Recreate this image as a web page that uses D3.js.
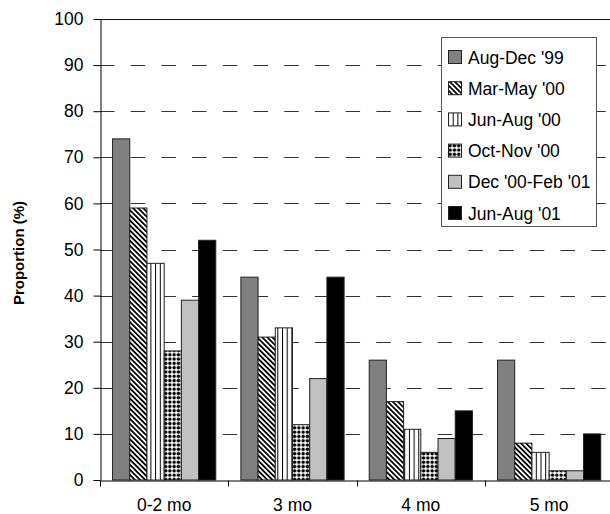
<!DOCTYPE html>
<html>
<head>
<meta charset="utf-8">
<script src="https://cdn.jsdelivr.net/npm/d3@7"></script>
<style>
  html, body { margin: 0; padding: 0; background: #fff; }
  svg { display: block; }
  text { font-family: "Liberation Sans", Arial, sans-serif; fill: #000; }
</style>
</head>
<body>
<svg id="chart" width="610" height="514"></svg>
<script>
// ---- Data ----
const categories = ["0-2 mo", "3 mo", "4 mo", "5 mo"];
const seriesNames = ["Aug-Dec '99", "Mar-May '00", "Jun-Aug '00", "Oct-Nov '00", "Dec '00-Feb '01", "Jun-Aug '01"];
const augDec99 = [74, 44, 26, 26];
const marMay00 = [59, 31, 17, 8];
const junAug00 = [47, 33, 11, 6];
const octNov00 = [28, 12, 6, 2];
const dec00Feb01 = [39, 22, 9, 2];
const junAug01 = [52, 44, 15, 10];
const yTicks = [0, 10, 20, 30, 40, 50, 60, 70, 80, 90, 100];
const yLabel = "Proportion (%)";

const seriesValues = [augDec99, marMay00, junAug00, octNov00, dec00Feb01, junAug01];
const fills = ["#808080", "url(#diag)", "url(#vert)", "url(#dots)", "#c0c0c0", "#000000"];

// ---- Setup ----
const svg = d3.select("#chart");
const plotLeft = 100, plotRight = 613.3, plotTop = 19, plotBottom = 480;
const FS = 17.5;

const defs = svg.append("defs");
// diagonal stripes "\"
const pd = defs.append("pattern").attr("id", "diag").attr("patternUnits", "userSpaceOnUse")
  .attr("width", 3.6).attr("height", 3.6).attr("patternTransform", "rotate(-45)");
pd.append("rect").attr("width", 3.6).attr("height", 3.6).attr("fill", "#fff");
pd.append("rect").attr("width", 1.8).attr("height", 3.6).attr("fill", "#000");
// vertical stripes
const pv = defs.append("pattern").attr("id", "vert").attr("patternUnits", "userSpaceOnUse")
  .attr("width", 4.7).attr("height", 4);
pv.append("rect").attr("width", 4.7).attr("height", 4).attr("fill", "#fff");
pv.append("rect").attr("x", 0).attr("width", 1).attr("height", 4).attr("fill", "#000");
// dots
const pdot = defs.append("pattern").attr("id", "dots").attr("patternUnits", "userSpaceOnUse")
  .attr("width", 4.3).attr("height", 4.3);
pdot.append("rect").attr("width", 4.3).attr("height", 4.3).attr("fill", "#fff");
pdot.append("circle").attr("cx", 2.15).attr("cy", 2.15).attr("r", 1.75).attr("fill", "#000");

const x = d3.scaleBand().domain(categories).range([plotLeft, plotRight]).padding(0);
const xs = d3.scaleBand().domain(seriesNames).range([0, x.bandwidth()]).paddingInner(0).paddingOuter(0.73);
const y = d3.scaleLinear().domain([0, 100]).range([plotBottom, plotTop]);

// ---- Gridlines ----
const grid = svg.append("g");
grid.selectAll("line").data(yTicks.filter(t => t > 0)).join("line")
  .attr("x1", plotLeft).attr("x2", 610)
  .attr("y1", d => Math.round(y(d)) + 0.5).attr("y2", d => Math.round(y(d)) + 0.5)
  .attr("stroke", d => d === 100 ? "#111" : "#333")
  .attr("stroke-width", 1)
  .attr("stroke-dasharray", d => d === 100 ? null : "14.5,16.2");

// ---- Bars ----
const rows = [];
categories.forEach((c, ci) => seriesNames.forEach((s, si) => rows.push({ c, s, si, v: seriesValues[si][ci] })));
svg.append("g").selectAll("rect").data(rows).join("rect")
  .attr("x", d => x(d.c) + xs(d.s))
  .attr("y", d => y(d.v))
  .attr("width", xs.bandwidth())
  .attr("height", d => y(0) - y(d.v))
  .attr("fill", d => fills[d.si])
  .attr("stroke", "#222")
  .attr("stroke-width", 1);

// ---- Axes ----
const yAxis = svg.append("g").attr("transform", `translate(${plotLeft + 0.5},0)`)
  .call(d3.axisLeft(y).tickValues(yTicks).tickSize(7).tickSizeOuter(0).tickPadding(10));
yAxis.selectAll("text").attr("font-size", FS).style("font-family", '"Liberation Sans", Arial, sans-serif');
yAxis.selectAll("line, path").attr("stroke", "#000");

const xAxis = svg.append("g").attr("transform", `translate(0,${plotBottom + 0.5})`)
  .call(d3.axisBottom(x).tickSize(0).tickSizeOuter(0).tickPadding(18));
xAxis.selectAll("text").attr("font-size", FS).style("font-family", '"Liberation Sans", Arial, sans-serif');
xAxis.select(".domain").attr("stroke", "#000");
// boundary ticks
const bounds = categories.map(c => x(c)).concat([x(categories[categories.length - 1]) + x.bandwidth()]);
xAxis.selectAll(".btick").data(bounds).join("line").attr("class", "btick")
  .attr("x1", d => Math.round(d) + 0.5).attr("x2", d => Math.round(d) + 0.5)
  .attr("y1", 0).attr("y2", 6).attr("stroke", "#000");

// ---- Y label ----
svg.append("text")
  .attr("transform", "translate(24,253) rotate(-90)")
  .attr("text-anchor", "middle")
  .attr("font-size", 15).attr("font-weight", "bold")
  .text(yLabel);

// ---- Legend ----
const lg = svg.append("g");
lg.append("rect").attr("x", 441.5).attr("y", 37.5).attr("width", 155).attr("height", 189)
  .attr("fill", "#fff").attr("stroke", "#555").attr("stroke-width", 1);
const items = lg.selectAll("g.item").data(seriesNames).join("g").attr("class", "item")
  .attr("transform", (d, i) => `translate(448,${50 + i * 31.2})`);
items.append("rect").attr("x", 0.5).attr("y", 0.5).attr("width", 13).attr("height", 13)
  .attr("fill", (d, i) => fills[i]).attr("stroke", "#222");
items.append("text").attr("x", 20).attr("y", 13.5).attr("font-size", FS).text(d => d);
</script>
</body>
</html>
